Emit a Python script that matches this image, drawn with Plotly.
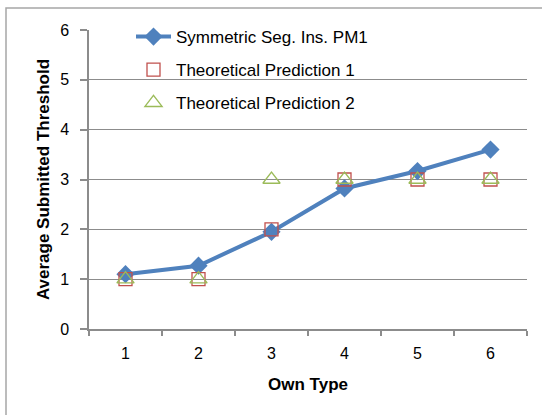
import plotly.graph_objects as go

categories = ["1", "2", "3", "4", "5", "6"]
observed = [1.10, 1.27, 1.95, 2.82, 3.17, 3.60]
prediction1 = [1, 1, 2, 3, 3, 3]
prediction2 = [1, 1, 3, 3, 3, 3]

series_names = ["Symmetric Seg. Ins. PM1", "Theoretical Prediction 1", "Theoretical Prediction 2"]

FONT = "Liberation Sans"
GRAY = "#8c8c8c"

fig = go.Figure()
fig.add_trace(go.Scatter(
    x=categories, y=observed, name=series_names[0], mode="lines+markers",
    line=dict(color="#4F81BD", width=4),
    marker=dict(symbol="diamond", size=14, color="#4F81BD"),
    legendgroup="a",
))
fig.add_trace(go.Scatter(
    x=categories, y=prediction1, name=series_names[1], mode="markers",
    marker=dict(symbol="square-open", size=13, color="#C0504D", line=dict(width=1.3)),
    legendgroup="b",
))
fig.add_trace(go.Scatter(
    x=categories, y=prediction2, name=series_names[2], mode="markers",
    marker=dict(symbol="triangle-up-open", size=15, color="#9BBB59", line=dict(width=1.3)),
    legendgroup="c",
))

L, R, T, B = 89, 15, 30, 86
W, H = 542, 415
pw, ph = W - L - R, H - T - B

fig.update_layout(
    width=W, height=H,
    margin=dict(l=L, r=R, t=T, b=B),
    paper_bgcolor="white", plot_bgcolor="white",
    font=dict(family=FONT, size=16, color="#000000"),
    showlegend=True,
    legend=dict(
        x=(131 - L) / pw, y=1.0 + (T - 19) / ph, xanchor="left", yanchor="top",
        bgcolor="rgba(0,0,0,0)", font=dict(size=17, family=FONT),
        tracegroupgap=8, itemwidth=35,
    ),
    xaxis=dict(
        type="category", tickson="boundaries",
        showline=True, linecolor=GRAY, linewidth=1.5,
        ticks="outside", ticklen=5, tickcolor=GRAY, tickwidth=1.5,
        showgrid=False, zeroline=False,
        tickfont=dict(size=16), ticklabelstandoff=9,
        title=dict(text="<b>Own Type</b>", font=dict(size=17), standoff=17),
        range=[-0.5, 5.5],
    ),
    yaxis=dict(
        range=[0, 6], dtick=1, tick0=0,
        showline=True, linecolor=GRAY, linewidth=1.5,
        ticks="outside", ticklen=7, tickcolor=GRAY, tickwidth=1.5,
        showgrid=True, gridcolor=GRAY, gridwidth=1,
        zeroline=False, tickfont=dict(size=16), ticklabelstandoff=8,
        title=dict(text="<b>Average Submitted Threshold</b>", font=dict(size=17), standoff=6),
    ),
    shapes=[dict(
        type="rect", xref="paper", yref="paper",
        x0=(6 - L) / pw, x1=(W + 20 - L) / pw,
        y0=-(H + 20 - T - ph) / ph, y1=1.0 + (T - 8) / ph,
        line=dict(color="#a6a6a6", width=1.5), fillcolor="rgba(0,0,0,0)", layer="below",
    )],
)

fig.write_html("out.html")
